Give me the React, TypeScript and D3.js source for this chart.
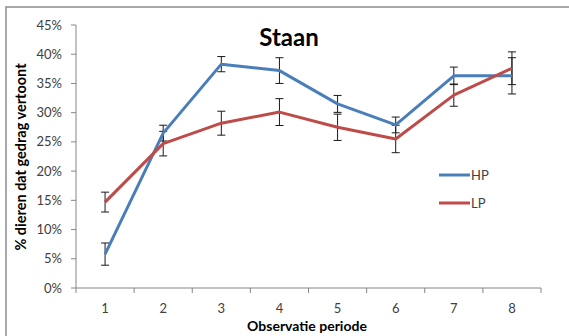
import React from "react";
import * as d3 from "d3";

const categories = ["1", "2", "3", "4", "5", "6", "7", "8"];
const hpValues = [5.8, 26.5, 38.3, 37.2, 31.5, 27.9, 36.3, 36.3];
const hpErrors = [1.9, 1.35, 1.3, 2.2, 1.45, 1.35, 1.5, 3.1];
const lpValues = [14.7, 24.7, 28.2, 30.1, 27.5, 25.5, 33.0, 37.6];
const lpErrors = [1.7, 2.1, 2.05, 2.3, 2.25, 2.35, 1.9, 2.8];
const yTicks = [0, 5, 10, 15, 20, 25, 30, 35, 40, 45];
const seriesNames = ["HP", "LP"];

const W = 569;
const H = 336;
const FONT = "Lato, 'Open Sans', sans-serif";

export default function App() {
  const x = d3.scaleBand<string>().domain(categories).range([76, 541]).padding(0);
  const y = d3.scaleLinear().domain([0, 45]).range([288, 25]);
  const cx = (c: string) => (x(c) as number) + x.bandwidth() / 2;

  const series = [
    { name: seriesNames[0], values: hpValues, errors: hpErrors, color: "#4A7EBB" },
    { name: seriesNames[1], values: lpValues, errors: lpErrors, color: "#BE4B48" },
  ];

  const line = d3
    .line<number>()
    .x((_, i) => cx(categories[i]))
    .y((d) => y(d));

  const bounds = categories.map((c) => x(c) as number).concat([541]);

  return (
    <div style={{ position: "absolute", left: 0, top: 0 }}>
      <svg width={W} height={H} style={{ display: "block" }} fontFamily={FONT}>
        <rect x={0} y={0} width={W} height={H} fill="#fff" />
        <rect x={6} y={7} width={W + 10} height={H + 10} fill="#fff" stroke="#8c8c8c" strokeWidth={1.5} />

        {/* Y axis */}
        <line x1={76} x2={76} y1={y(45)} y2={y(0)} stroke="#868686" strokeWidth={1} />
        {yTicks.map((t) => (
          <g key={"yt" + t}>
            <line x1={71} x2={76} y1={y(t)} y2={y(t)} stroke="#868686" />
            <text x={62} y={y(t)} dy="0.35em" textAnchor="end" fontSize={13} fill="#404040">
              {t + "%"}
            </text>
          </g>
        ))}

        {/* X axis */}
        <line x1={76} x2={541} y1={y(0)} y2={y(0)} stroke="#868686" strokeWidth={1} />
        {bounds.map((b, i) => (
          <line key={"xt" + i} x1={b} x2={b} y1={y(0)} y2={y(0) + 5} stroke="#868686" />
        ))}
        {categories.map((c) => (
          <text key={"xl" + c} x={cx(c)} y={313} textAnchor="middle" fontSize={13} fill="#404040">
            {c}
          </text>
        ))}

        {/* Error bars */}
        {series.map((s) =>
          s.values.map((v, i) => {
            const px = cx(categories[i]);
            const top = y(v + s.errors[i]);
            const bot = y(v - s.errors[i]);
            return (
              <g key={s.name + "e" + i} stroke="#1a1a1a" strokeWidth={1}>
                <line x1={px} x2={px} y1={top} y2={bot} />
                <line x1={px - 4} x2={px + 4} y1={top} y2={top} />
                <line x1={px - 4} x2={px + 4} y1={bot} y2={bot} />
              </g>
            );
          })
        )}

        {/* Lines */}
        {series.map((s) => (
          <path
            key={s.name + "l"}
            d={line(s.values) || ""}
            fill="none"
            stroke={s.color}
            strokeWidth={3}
            strokeLinejoin="round"
          />
        ))}

        {/* Title */}
        <text x={289} y={46} textAnchor="middle" fontSize={24} fontWeight="bold" fill="#000">
          Staan
        </text>

        {/* Axis titles */}
        <text x={307} y={331} textAnchor="middle" fontSize={14} fontWeight="bold" fill="#000">
          Observatie periode
        </text>
        <text
          transform={`translate(26, 157) rotate(-90)`}
          textAnchor="middle"
          fontSize={14.5}
          fontWeight="bold"
          fill="#000"
        >
          % dieren dat gedrag vertoont
        </text>

        {/* Legend */}
        {series.map((s, i) => (
          <g key={s.name + "lg"}>
            <line x1={439} x2={470} y1={175 + i * 28} y2={175 + i * 28} stroke={s.color} strokeWidth={3} />
            <text x={471} y={175 + i * 28} dy="0.35em" fontSize={13} fill="#404040">
              {s.name}
            </text>
          </g>
        ))}
      </svg>
    </div>
  );
}
